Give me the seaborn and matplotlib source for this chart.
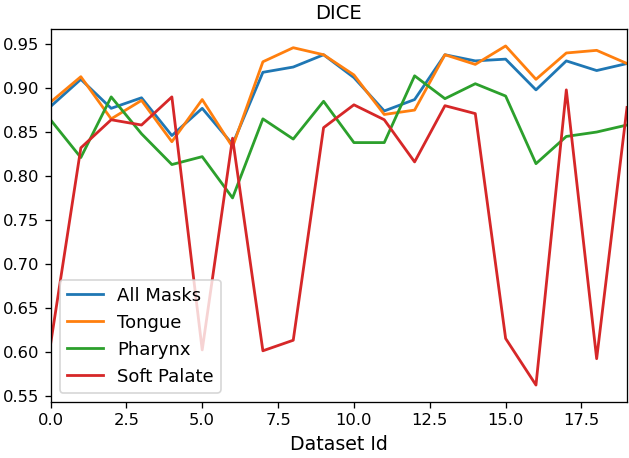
import numpy as np
import pandas as pd
import matplotlib
matplotlib.use("Agg")
import matplotlib.pyplot as plt
import seaborn as sns

dataset_id = list(range(20))

all_masks = [0.879, 0.910, 0.877, 0.889, 0.846, 0.877, 0.836, 0.918, 0.924, 0.938,
             0.912, 0.874, 0.887, 0.938, 0.931, 0.933, 0.898, 0.931, 0.920, 0.928]
tongue = [0.884, 0.913, 0.865, 0.886, 0.839, 0.887, 0.833, 0.930, 0.946, 0.938,
          0.915, 0.870, 0.875, 0.938, 0.927, 0.948, 0.910, 0.940, 0.943, 0.928]
pharynx = [0.864, 0.821, 0.890, 0.848, 0.813, 0.822, 0.775, 0.865, 0.842, 0.885,
           0.838, 0.838, 0.914, 0.888, 0.905, 0.891, 0.814, 0.845, 0.850, 0.858]
soft_palate = [0.608, 0.832, 0.864, 0.858, 0.890, 0.602, 0.843, 0.601, 0.613, 0.855,
               0.881, 0.864, 0.816, 0.880, 0.871, 0.615, 0.562, 0.898, 0.592, 0.878]

series = {
    "All Masks": all_masks,
    "Tongue": tongue,
    "Pharynx": pharynx,
    "Soft Palate": soft_palate,
}
colors = ["#1f77b4", "#ff7f0e", "#2ca02c", "#d62728"]

dpi = 118
fig = plt.figure(figsize=(629 / dpi, 458 / dpi), dpi=dpi)
ax = fig.add_axes([50.5 / 629, 1 - 402 / 458, (627 - 50.5) / 629, (402 - 29) / 458])

for (name, vals), c in zip(series.items(), colors):
    df = pd.DataFrame({"Dataset Id": dataset_id, "DICE": vals})
    sns.lineplot(data=df, x="Dataset Id", y="DICE", color=c, label=name,
                 linewidth=1.7, ax=ax)

ax.set_xlim(0, 19)
ax.set_title("DICE")
ax.set_xlabel("Dataset Id", fontsize=11.5)
ax.set_ylabel("")
ax.legend(loc="lower left", fontsize=11)

fig.savefig("out.png", dpi=dpi)
